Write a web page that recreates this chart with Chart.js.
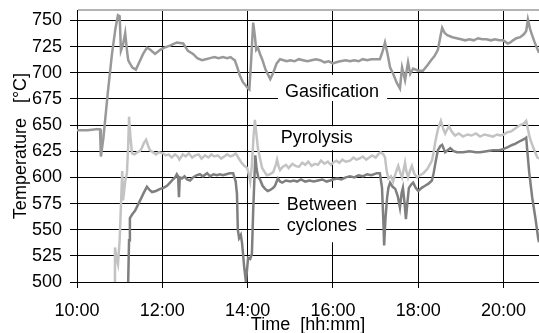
<!DOCTYPE html>
<html>
<head>
<meta charset="utf-8">
<script src="https://cdn.jsdelivr.net/npm/chart.js@4/dist/chart.umd.min.js"></script>
<style>html,body{margin:0;padding:0;background:#fff;overflow:hidden}canvas{display:block}</style>
</head>
<body>
<canvas id="c" width="539" height="333"></canvas>
<script>
// ---- data (time in hours of day, temperature in °C) ----
const xTickValues = [10, 12, 14, 16, 18, 20];
const xTickLabels = ['10:00', '12:00', '14:00', '16:00', '18:00', '20:00'];
const yTickValues = [500, 525, 550, 575, 600, 625, 650, 675, 700, 725, 750];

const gasTime = [10.00,10.25,10.45,10.54,10.56,10.62,10.72,10.82,10.90,10.96,11.00,11.03,11.08,11.13,11.17,11.20,11.24,11.30,11.38,11.46,11.55,11.64,11.72,11.83,11.95,12.05,12.18,12.34,12.49,12.60,12.72,12.82,12.93,13.02,13.12,13.22,13.32,13.42,13.52,13.60,13.66,13.70,13.76,13.82,13.89,13.95,14.01,14.04,14.08,14.13,14.17,14.20,14.24,14.29,14.34,14.42,14.53,14.60,14.68,14.76,14.84,14.92,15.00,15.10,15.20,15.30,15.40,15.50,15.60,15.70,15.80,15.90,16.00,16.08,16.17,16.30,16.40,16.50,16.60,16.70,16.80,16.90,17.00,17.10,17.16,17.22,17.28,17.34,17.41,17.50,17.57,17.62,17.69,17.76,17.81,17.88,18.00,18.11,18.21,18.30,18.38,18.46,18.52,18.56,18.62,18.68,18.80,18.90,19.00,19.10,19.20,19.30,19.40,19.50,19.60,19.70,19.80,19.90,19.99,20.10,20.16,20.22,20.30,20.39,20.48,20.53,20.57,20.62,20.66,20.72,20.78,20.83];
const gasTemp = [645,645,646,646,620,638,680,718,742,755,754,721,727,738,722,712,709,705,703,710,718,724,722,718,722,724,726,729,728,721,718,714,712,713,714,715,714,715,714,715,713,712,705,697,691,688,685,684,710,748,735,722,724,718,713,703,694,700,709,713,712,711,712,711,713,712,711,712,713,712,710,711,709,710,711,712,711,712,711,713,712,713,713,713,720,729,718,705,699,690,685,705,693,710,699,704,702,702,707,712,716,722,735,743,738,736,734,733,732,731,732,731,733,732,732,731,732,731,731,728,729,731,733,734,737,740,751,742,737,730,724,719];

const pyroTime = [10.87,10.89,10.93,10.96,11.00,11.06,11.08,11.13,11.17,11.20,11.22,11.25,11.29,11.35,11.41,11.47,11.52,11.57,11.62,11.67,11.71,11.78,11.85,11.92,12.02,12.08,12.15,12.22,12.30,12.36,12.40,12.48,12.55,12.62,12.70,12.77,12.85,12.92,13.00,13.08,13.15,13.22,13.30,13.38,13.45,13.52,13.60,13.66,13.72,13.78,13.84,13.92,13.99,14.03,14.06,14.10,14.14,14.17,14.21,14.24,14.29,14.34,14.40,14.45,14.52,14.60,14.66,14.69,14.73,14.76,14.82,14.90,14.96,15.05,15.12,15.20,15.28,15.35,15.42,15.50,15.58,15.65,15.72,15.80,15.88,15.95,16.00,16.08,16.15,16.22,16.30,16.40,16.48,16.55,16.62,16.70,16.78,16.85,16.92,17.00,17.06,17.12,17.18,17.22,17.26,17.30,17.36,17.41,17.47,17.53,17.58,17.62,17.69,17.72,17.76,17.81,17.85,17.90,17.97,18.04,18.12,18.21,18.28,18.32,18.36,18.39,18.43,18.46,18.53,18.58,18.63,18.68,18.72,18.78,18.86,18.95,19.05,19.15,19.25,19.35,19.45,19.55,19.65,19.75,19.85,19.92,20.00,20.08,20.18,20.28,20.39,20.46,20.53,20.57,20.62,20.70,20.79,20.83];
const pyroTemp = [500,533,522,517,540,606,578,596,604,630,658,640,623,622,624,625,628,633,636,630,626,624,622,624,623,621,622,619,622,620,617,622,620,623,619,621,622,618,621,619,622,620,621,618,620,622,620,621,623,619,615,611,609,602,596,612,640,655,640,628,618,609,605,602,603,605,612,617,610,607,610,612,609,613,611,610,614,612,615,611,613,612,616,613,615,612,614,616,614,617,615,616,619,617,618,620,617,619,621,619,622,624,622,619,606,599,601,596,604,611,604,600,614,606,600,607,611,604,600,602,604,608,613,616,624,632,640,646,654,647,642,646,649,644,640,642,639,641,640,642,639,641,640,639,641,640,641,643,644,647,650,651,654,646,637,628,619,618];

const cycTime = [11.20,11.22,11.24,11.30,11.36,11.42,11.48,11.55,11.60,11.64,11.70,11.76,11.85,11.95,12.03,12.11,12.18,12.25,12.30,12.34,12.37,12.39,12.41,12.46,12.52,12.58,12.65,12.72,12.80,12.88,12.95,13.05,13.12,13.20,13.28,13.35,13.42,13.50,13.58,13.66,13.72,13.75,13.77,13.80,13.84,13.87,13.92,13.96,14.01,14.06,14.10,14.13,14.18,14.21,14.25,14.29,14.35,14.41,14.47,14.53,14.60,14.64,14.71,14.76,14.81,14.90,15.00,15.08,15.16,15.25,15.35,15.45,15.55,15.65,15.75,15.85,15.93,16.00,16.10,16.20,16.30,16.40,16.50,16.60,16.70,16.80,16.90,17.03,17.10,17.15,17.18,17.20,17.23,17.27,17.30,17.34,17.40,17.46,17.52,17.57,17.61,17.64,17.68,17.71,17.75,17.78,17.83,17.88,17.94,18.00,18.08,18.16,18.24,18.32,18.36,18.39,18.43,18.46,18.52,18.56,18.60,18.63,18.69,18.75,18.83,18.91,19.05,19.20,19.35,19.45,19.60,19.75,19.90,19.99,20.10,20.20,20.27,20.40,20.50,20.53,20.55,20.60,20.67,20.75,20.81,20.83];
const cycTemp = [500,540,561,565,568,573,578,584,588,591,588,586,587,589,590,592,595,598,600,603,601,581,600,599,601,598,597,600,602,603,601,604,601,603,602,603,602,603,604,604,596,584,550,542,545,537,514,500,523,522,527,568,621,608,600,598,592,589,587,588,590,592,599,596,595,597,596,597,596,598,596,597,596,597,598,596,597,598,599,598,600,601,600,602,601,603,602,604,604,590,560,535,560,581,590,595,591,589,582,571,585,590,575,560,578,590,593,595,590,587,590,592,594,597,604,611,620,626,630,631,627,624,626,628,625,624,624,625,624,624,625,626,626,627,629,631,632,635,637,638,628,605,581,560,542,538];

const seriesNames = ['Gasification', 'Pyrolysis', 'Between cyclones'];

// ---- annotation boxes (data coordinates) ----
const annotations = [
  { lines: ['Gasification'], cx: 15.98, baselines: [677.3], box: [14.71, 17.27, 698, 673] },
  { lines: ['Pyrolysis'], cx: 15.62, baselines: [632.6], box: [14.69, 16.66, 649, 626] },
  { lines: ['Between', 'cyclones'], cx: 15.74, baselines: [568.9, 549.0], box: [14.74, 16.78, 590, 538] }
];

const FONT = "'Liberation Sans', Arial, Helvetica, sans-serif";
Chart.defaults.font.family = FONT;
Chart.defaults.color = '#000';

function pts(t, v) { return t.map((x, i) => ({ x: x, y: v[i] })); }

const labelPlugin = {
  id: 'labelBoxes',
  beforeDatasetsDraw(chart) {
    const ctx = chart.ctx, xs = chart.scales.x, ys = chart.scales.y;
    ctx.save();
    ctx.font = '18px ' + FONT;
    ctx.textAlign = 'center';
    ctx.textBaseline = 'alphabetic';
    annotations.forEach(a => {
      const x0 = xs.getPixelForValue(a.box[0]), x1 = xs.getPixelForValue(a.box[1]);
      const y0 = ys.getPixelForValue(a.box[2]), y1 = ys.getPixelForValue(a.box[3]);
      ctx.fillStyle = '#fff';
      ctx.fillRect(x0, y0, x1 - x0, y1 - y0);
      ctx.fillStyle = '#000';
      a.lines.forEach((txt, i) => {
        ctx.fillText(txt, xs.getPixelForValue(a.cx), ys.getPixelForValue(a.baselines[i]));
      });
    });
    ctx.restore();
  }
};

new Chart(document.getElementById('c'), {
  type: 'line',
  data: {
    datasets: [
      { label: seriesNames[0], data: pts(gasTime, gasTemp), borderColor: '#999999', borderWidth: 2.5, pointRadius: 0, tension: 0, fill: false },
      { label: seriesNames[1], data: pts(pyroTime, pyroTemp), borderColor: '#c3c3c3', borderWidth: 2.5, pointRadius: 0, tension: 0, fill: false },
      { label: seriesNames[2], data: pts(cycTime, cycTemp), borderColor: '#7f7f7f', borderWidth: 2.5, pointRadius: 0, tension: 0, fill: false }
    ]
  },
  options: {
    responsive: false,
    animation: false,
    devicePixelRatio: 1,
    layout: { padding: { top: 10, right: 0, left: 0, bottom: 0 } },
    plugins: { legend: { display: false }, tooltip: { enabled: false } },
    scales: {
      x: {
        type: 'linear',
        min: 10,
        max: 20.83,
        afterBuildTicks: s => { s.ticks = xTickValues.map(v => ({ value: v })); },
        afterFit: s => { s.height = 51; s.paddingLeft = 0; s.paddingRight = 0; },
        ticks: {
          autoSkip: false, maxRotation: 0, padding: 12,
          font: { size: 18 }, color: '#000',
          callback: v => { const i = xTickValues.indexOf(v); return i >= 0 ? xTickLabels[i] : ''; }
        },
        grid: { color: '#000', lineWidth: 1, tickLength: 6, tickColor: '#000' },
        border: { color: '#000', width: 1 },
        title: { display: true, text: 'Time  [hh:mm]', font: { size: 18 }, color: '#000', padding: { top: 0, bottom: -3 } }
      },
      y: {
        min: 500,
        max: 760,
        afterBuildTicks: s => { s.ticks = yTickValues.concat([760]).map(v => ({ value: v })); },
        afterFit: s => { s.width = 77; s.paddingTop = 0; s.paddingBottom = 0; },
        ticks: {
          autoSkip: false,
          padding: 8, font: { size: 18 }, color: '#000',
          callback: v => (v === 760 ? '' : String(v))
        },
        grid: {
          color: c => (c.tick && c.tick.value === 760 ? '#b4b4b4' : '#000'),
          lineWidth: c => (c.tick && c.tick.value === 760 ? 2 : 1),
          tickColor: c => (c.tick && c.tick.value === 760 ? 'rgba(0,0,0,0)' : '#000'),
          tickLength: 7
        },
        border: { color: '#000', width: 1 },
        title: { display: true, text: 'Temperature   [°C]', font: { size: 18 }, color: '#000', padding: { top: 10, bottom: 0 } }
      }
    }
  },
  plugins: [labelPlugin]
});
</script>
</body>
</html>
